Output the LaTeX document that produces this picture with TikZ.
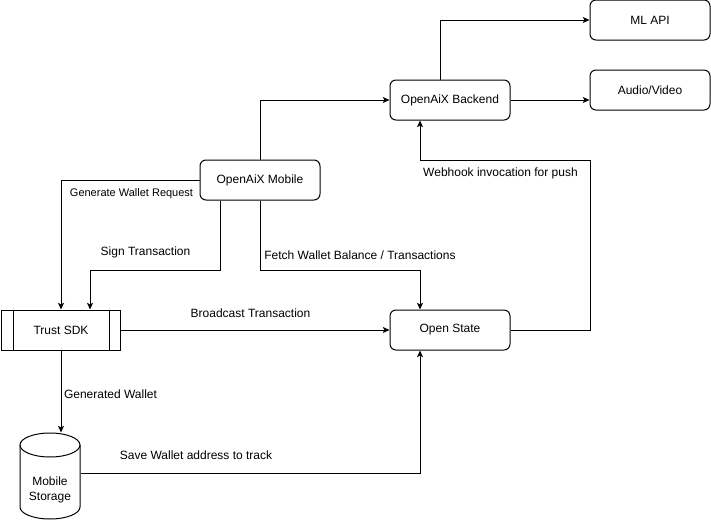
\documentclass[tikz,border=0pt]{standalone}
\usepackage{fontspec}
\setmainfont{Liberation Sans}
\usetikzlibrary{arrows.meta}
\begin{document}
\begin{tikzpicture}[x=0.75pt,y=-0.75pt,line width=0.75pt,
box/.style={draw, rounded corners=4.5pt, minimum width=90pt, minimum height=30pt, inner sep=0pt, font=\fontsize{9}{11}\selectfont},
lbl/.style={inner sep=0pt, font=\fontsize{9}{11}\selectfont},
conn/.style={-{Stealth[length=5pt,width=4.5pt,inset=1.2pt]}}]
\useasboundingbox (0,0) rectangle (711,521);
\node[box] (mobile) at (260,180){OpenAiX Mobile};
\node[box] (backend) at (450,100){OpenAiX Backend};
\node[box] (mlapi) at (650,20){ML API};
\node[box] (av) at (650,90){Audio/Video};
\node[box] (state) at (450,330){Open State};
\node[box, rounded corners=0pt, minimum width=89.25pt] (sdk) at (61,330){Trust SDK};
\draw ([xshift=9pt]sdk.north west) -- ([xshift=9pt]sdk.south west);
\draw ([xshift=-9pt]sdk.north east) -- ([xshift=-9pt]sdk.south east);
% mobile storage cylinder
\node[inner sep=0pt, minimum width=45pt, minimum height=65.25pt] (store) at (50,476.5){};
\draw (20,445) -- (20,507) arc[start angle=180, end angle=0, x radius=30, y radius=12] -- (80,445);
\draw (50,445) ellipse [x radius=30, y radius=12];
\node[lbl, align=center] (storetxt) at (50,490){Mobile\\Storage};
\coordinate (hookbend) at (590,160);
\coordinate (signbend) at (220,270);
\coordinate (fetchbend) at (420,270);
\draw[conn](mobile.north) |- (backend.west);
\draw[conn]([xshift=-7.5pt]backend.north) |- (mlapi.west);
\draw[conn](backend.east) -- (backend.east -| av.west);
\draw[conn](state.east) -| (hookbend) -| ([xshift=-22.5pt]backend.south);
\draw[conn](mobile.west) -| (sdk.north);
\draw[conn]([xshift=-30pt]mobile.south) -- (signbend) -| ([xshift=21.75pt]sdk.north);
\draw[conn](mobile.south) |- (fetchbend) -- ([xshift=-22.5pt]state.north);
\draw[conn](sdk.east) -- (state.west);
\draw[conn](sdk.south) -- (sdk.south |- store.north);
\draw[conn](store.east |- 0,473) -| ([xshift=-22.5pt]state.south);
\node[lbl, font=\fontsize{8.25}{10}\selectfont] (genreq) at (131.5,194){Generate Wallet Request};
\node[lbl] (signtx) at (145.5,252.5){Sign Transaction};
\node[lbl] (fetch) at (360,255){Fetch Wallet Balance / Transactions};
\node[lbl] (bcast) at (250.5,313){Broadcast Transaction};
\node[lbl] (genwal) at (110.5,394){Generated Wallet};
\node[lbl] (save) at (196,455){Save Wallet address to track};
\node[lbl] (hook) at (500.5,173){Webhook invocation for push};
\end{tikzpicture}
\end{document}
